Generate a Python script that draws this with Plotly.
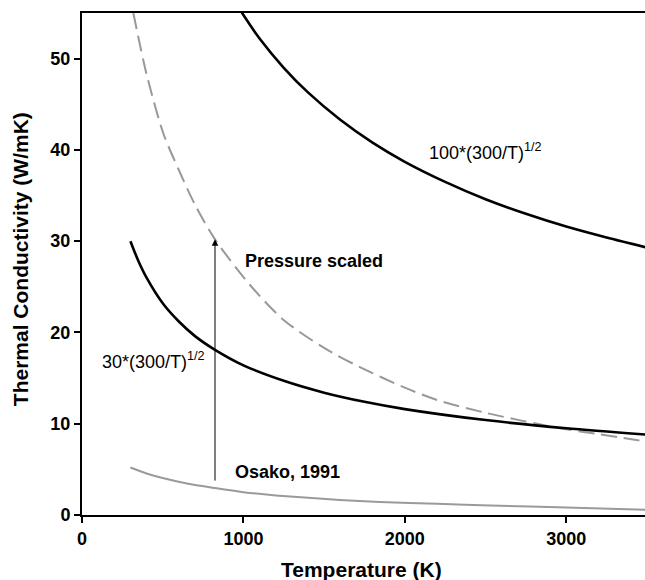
import plotly.graph_objects as go

# --- data ---
temp_100 = [979, 1100, 1250, 1400, 1600, 1800, 2000, 2250, 2500, 2750, 3000, 3250, 3500]
k_100 = [55.35, 52.2, 49.0, 46.3, 43.3, 40.8, 38.7, 36.5, 34.6, 33.0, 31.6, 30.4, 29.3]

temp_30 = [300, 350, 400, 500, 600, 700, 824, 1000, 1250, 1500, 1750, 2000, 2500, 3000, 3500]
k_30 = [30.0, 27.8, 26.0, 23.2, 21.2, 19.6, 18.1, 16.4, 14.7, 13.4, 12.4, 11.6, 10.4, 9.5, 8.8]

temp_ps = [318, 400, 504, 600, 700, 824, 1041, 1247, 1500, 1722, 2000, 2200, 2500, 2920, 3200, 3500]
k_ps = [55.0, 48.3, 41.8, 37.8, 34.0, 30.2, 25.2, 21.4, 18.3, 16.2, 13.95, 12.6, 11.2, 9.64, 8.85, 8.05]

temp_osako = [300, 400, 500, 650, 824, 1000, 1200, 1598, 1846, 2200, 2528, 3000, 3500]
k_osako = [5.2, 4.55, 4.05, 3.45, 2.95, 2.5, 2.15, 1.65, 1.42, 1.22, 1.05, 0.82, 0.58]

x_ticks = [0, 1000, 2000, 3000]
y_ticks = [0, 10, 20, 30, 40, 50]

arrow_T = 824
arrow_from = 3.6
arrow_to = 30.2

FONT = "Liberation Sans, Arial, sans-serif"

fig = go.Figure()
fig.add_trace(go.Scatter(x=temp_osako, y=k_osako, mode="lines", line=dict(color="#9a9a9a", width=2, shape="spline", smoothing=0.8), showlegend=False))
fig.add_trace(go.Scatter(x=temp_ps, y=k_ps, mode="lines", line=dict(color="#999999", width=2, dash="16px,7px", shape="spline", smoothing=0.8), showlegend=False))
fig.add_trace(go.Scatter(x=temp_30, y=k_30, mode="lines", line=dict(color="black", width=2.6, shape="spline", smoothing=0.8), showlegend=False))
fig.add_trace(go.Scatter(x=temp_100, y=k_100, mode="lines", line=dict(color="black", width=2.6, shape="spline", smoothing=0.8), showlegend=False))

fig.add_annotation(x=arrow_T, y=arrow_to, ax=arrow_T, ay=arrow_from, axref="x", ayref="y", xref="x", yref="y",
                   text="", showarrow=True, arrowhead=2, arrowsize=1.3, arrowwidth=1, arrowcolor="black", standoff=0)

labels = [
    dict(x=2137, y=39.8, text="100*(300/T)<sup>1/2</sup>", bold=False),
    dict(x=999, y=27.85, text="Pressure scaled", bold=True),
    dict(x=111, y=16.9, text="30*(300/T)<sup>1/2</sup>", bold=False),
    dict(x=937, y=4.7, text="Osako, 1991", bold=True),
]
for lb in labels:
    t = lb["text"]
    if lb["bold"]:
        t = "<b>" + t + "</b>"
    fig.add_annotation(x=lb["x"], y=lb["y"], text=t, showarrow=False, xanchor="left", yanchor="middle",
                       font=dict(family=FONT, size=18, color="black"))

# axis titles as annotations for exact placement
fig.add_annotation(xref="paper", yref="paper", x=0.497, y=-0.108, text="<b>Temperature (K)</b>",
                   showarrow=False, xanchor="center", yanchor="middle", font=dict(family=FONT, size=21, color="black"))
fig.add_annotation(xref="paper", yref="paper", x=-0.108, y=0.51, text="<b>Thermal Conductivity (W/mK)</b>",
                   showarrow=False, xanchor="center", yanchor="middle", textangle=-90,
                   font=dict(family=FONT, size=21, color="black"))

fig.update_layout(
    width=645, height=580,
    margin=dict(l=82, r=0, t=13, b=65, autoexpand=False),
    plot_bgcolor="white", paper_bgcolor="white",
    font=dict(family=FONT, color="black"),
)
fig.update_xaxes(range=[0, 3488], tickvals=x_ticks, ticktext=[str(v) for v in x_ticks], automargin=False,
                 showgrid=False, zeroline=False, showline=True, linecolor="black", linewidth=2,
                 mirror=True, ticks="outside", ticklen=6, tickwidth=2, tickcolor="black",
                 tickfont=dict(family=FONT, size=18, color="black", weight="bold"))
fig.update_yaxes(range=[0, 55], tickvals=y_ticks, ticktext=[str(v) for v in y_ticks], automargin=False,
                 showgrid=False, zeroline=False, showline=True, linecolor="black", linewidth=2,
                 ticks="outside", ticklen=6, tickwidth=2, tickcolor="black",
                 tickfont=dict(family=FONT, size=18, color="black", weight="bold"))

fig.write_html("out.html", config={"displayModeBar": False},
               post_script="document.body.style.margin='0';document.body.style.padding='0';document.body.style.overflow='hidden';")
